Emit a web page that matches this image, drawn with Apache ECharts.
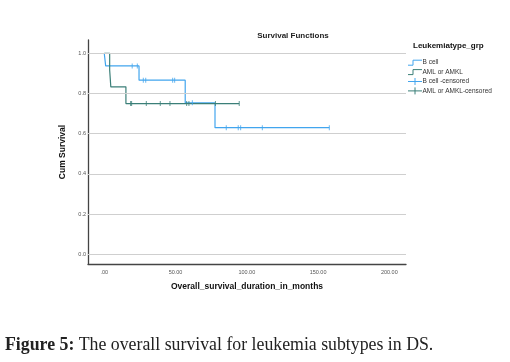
<!DOCTYPE html>
<html><head><meta charset="utf-8">
<script src="https://cdn.jsdelivr.net/npm/echarts@6/dist/echarts.min.js"></script>
<style>html,body{margin:0;padding:0;background:#fff}#c{width:510px;height:362px}</style>
</head><body><div id="c"></div>
<script>
// ---- data ----
var bTimes = [0, 1, 24.4, 56.8, 77.7, 157.9];
var bSurv  = [1, 0.937, 0.866, 0.754, 0.630, 0.630];
var aTimes = [0, 3.8, 4.6, 15.2, 94.7];
var aSurv  = [1, 0.917, 0.833, 0.750, 0.750];
var bCensT = [19.6, 23.2, 27.4, 29.1, 48.0, 49.4, 61.8, 85.6, 94.0, 95.7, 110.9, 157.9];
var bCensS = [0.937, 0.937, 0.866, 0.866, 0.866, 0.866, 0.754, 0.630, 0.630, 0.630, 0.630, 0.630];
var aCensT = [18.5, 19.2, 29.5, 39.3, 46.1, 57.8, 59.4, 78.0, 94.7];
var aCensS = [0.75, 0.75, 0.75, 0.75, 0.75, 0.75, 0.75, 0.75, 0.75];
var xTicks = [0, 50, 100, 150, 200];
var xTickLabels = ['.00', '50.00', '100.00', '150.00', '200.00'];
var yTicks = [0, 0.2, 0.4, 0.6, 0.8, 1.0];
var yTickLabels = ['0.0', '0.2', '0.4', '0.6', '0.8', '1.0'];
var seriesNames = ['B cell', 'AML or AMKL', 'B cell -censored', 'AML or AMKL-censored'];

var cB = '#42a5ee', cA = '#3b7f78';
function zip(a, b) { return a.map(function (v, i) { return [v, b[i]]; }); }

var chart = echarts.init(document.getElementById('c'), null, {renderer: 'canvas'});
var lx = 408, ly0 = 62.7, ldy = 9.4;
var legendG = [];
var cols = [cB, cA, cB, cA];
seriesNames.forEach(function (n, i) {
  var y = ly0 + i * ldy;
  if (i < 2) {
    legendG.push({type: 'polyline', shape: {points: [[lx, y + 2.5], [lx + 5, y + 2.5], [lx + 5, y - 2.5], [lx + 14, y - 2.5]]},
      style: {stroke: cols[i], lineWidth: 1, fill: null}});
  } else {
    legendG.push({type: 'line', shape: {x1: lx, y1: y, x2: lx + 14, y2: y}, style: {stroke: cols[i], lineWidth: 1}});
    legendG.push({type: 'line', shape: {x1: lx + 7, y1: y - 3.5, x2: lx + 7, y2: y + 3.5}, style: {stroke: cols[i], lineWidth: 1}});
  }
  legendG.push({type: 'text', x: lx + 14.5, y: y, style: {text: n, fill: '#333', font: '6.5px Arial, "Liberation Sans"', textVerticalAlign: 'middle'}});
});

var option = {
  animation: false,
  title: {text: 'Survival Functions', left: 288, top: 27, textAlign: 'center',
    textStyle: {fontSize: 8, fontWeight: 'bold', color: '#222', fontFamily: 'Arial, "Liberation Sans"'}},
  grid: {left: 88, right: 104, top: 40, bottom: 98},
  xAxis: {type: 'value', min: -11.4, max: 211.7,
    name: 'Overall_survival_duration_in_months', nameLocation: 'middle', nameGap: 18,
    nameTextStyle: {fontSize: 8.5, fontWeight: 'bold', color: '#111', fontFamily: 'Arial, "Liberation Sans"'},
    axisLine: {onZero: false, lineStyle: {color: '#444', width: 1.3}},
    axisTick: {show: false}, splitLine: {show: false},
    axisLabel: {customValues: xTicks, fontSize: 5.5, color: '#555', margin: 5,
      formatter: function (v) { return xTickLabels[xTicks.indexOf(v)]; }}},
  yAxis: {type: 'value', min: -0.048, max: 1.066,
    name: 'Cum Survival', nameLocation: 'middle', nameGap: 13, nameRotate: 90,
    nameTextStyle: {fontSize: 8.5, fontWeight: 'bold', color: '#111', fontFamily: 'Arial, "Liberation Sans"'},
    axisLine: {show: true, onZero: false, lineStyle: {color: '#444', width: 1.3}},
    axisTick: {show: false}, splitLine: {show: false},
    axisLabel: {customValues: yTicks, fontSize: 5.5, color: '#555', margin: 2,
      formatter: function (v) { var k = yTicks.findIndex(function (t) { return Math.abs(t - v) < 1e-6; }); return yTickLabels[k]; }}},
  graphic: [
    {type: 'text', left: 413, top: 42, style: {text: 'Leukemiatype_grp', fill: '#111', font: 'bold 8px Arial, "Liberation Sans"'}},
    {type: 'group', children: legendG},
    {type: 'text', left: 5, top: 336, style: {
      rich: {b: {fontFamily: '"Liberation Serif", "DejaVu Serif", serif', fontSize: 17.8, fontWeight: 'bold', fill: '#222'},
             n: {fontFamily: '"Liberation Serif", "DejaVu Serif", serif', fontSize: 17.8, fill: '#222'}},
      text: '{b|Figure 5:}{n| The overall survival for leukemia subtypes in DS.}'}}
  ],
  series: [
    {type: 'line', name: 'grid', data: [], silent: true,
      markLine: {silent: true, symbol: 'none', label: {show: false},
        lineStyle: {color: '#cfcfcf', width: 1.2, type: 'solid'},
        data: yTicks.map(function (v) { return {yAxis: v}; })}},
    {type: 'line', name: seriesNames[0], step: 'end', data: zip(bTimes, bSurv), showSymbol: false,
      lineStyle: {color: cB, width: 1.2}, z: 3},
    {type: 'line', name: seriesNames[1], step: 'end', data: zip(aTimes, aSurv), showSymbol: false,
      lineStyle: {color: cA, width: 1.2}, z: 4},
    {type: 'scatter', name: seriesNames[2], data: zip(bCensT, bCensS), symbol: 'rect', symbolSize: [1, 5],
      itemStyle: {color: cB}, z: 5},
    {type: 'scatter', name: seriesNames[3], data: zip(aCensT, aCensS), symbol: 'rect', symbolSize: [1, 5],
      itemStyle: {color: cA}, z: 6}
  ]
};
chart.setOption(option);
</script></body></html>
